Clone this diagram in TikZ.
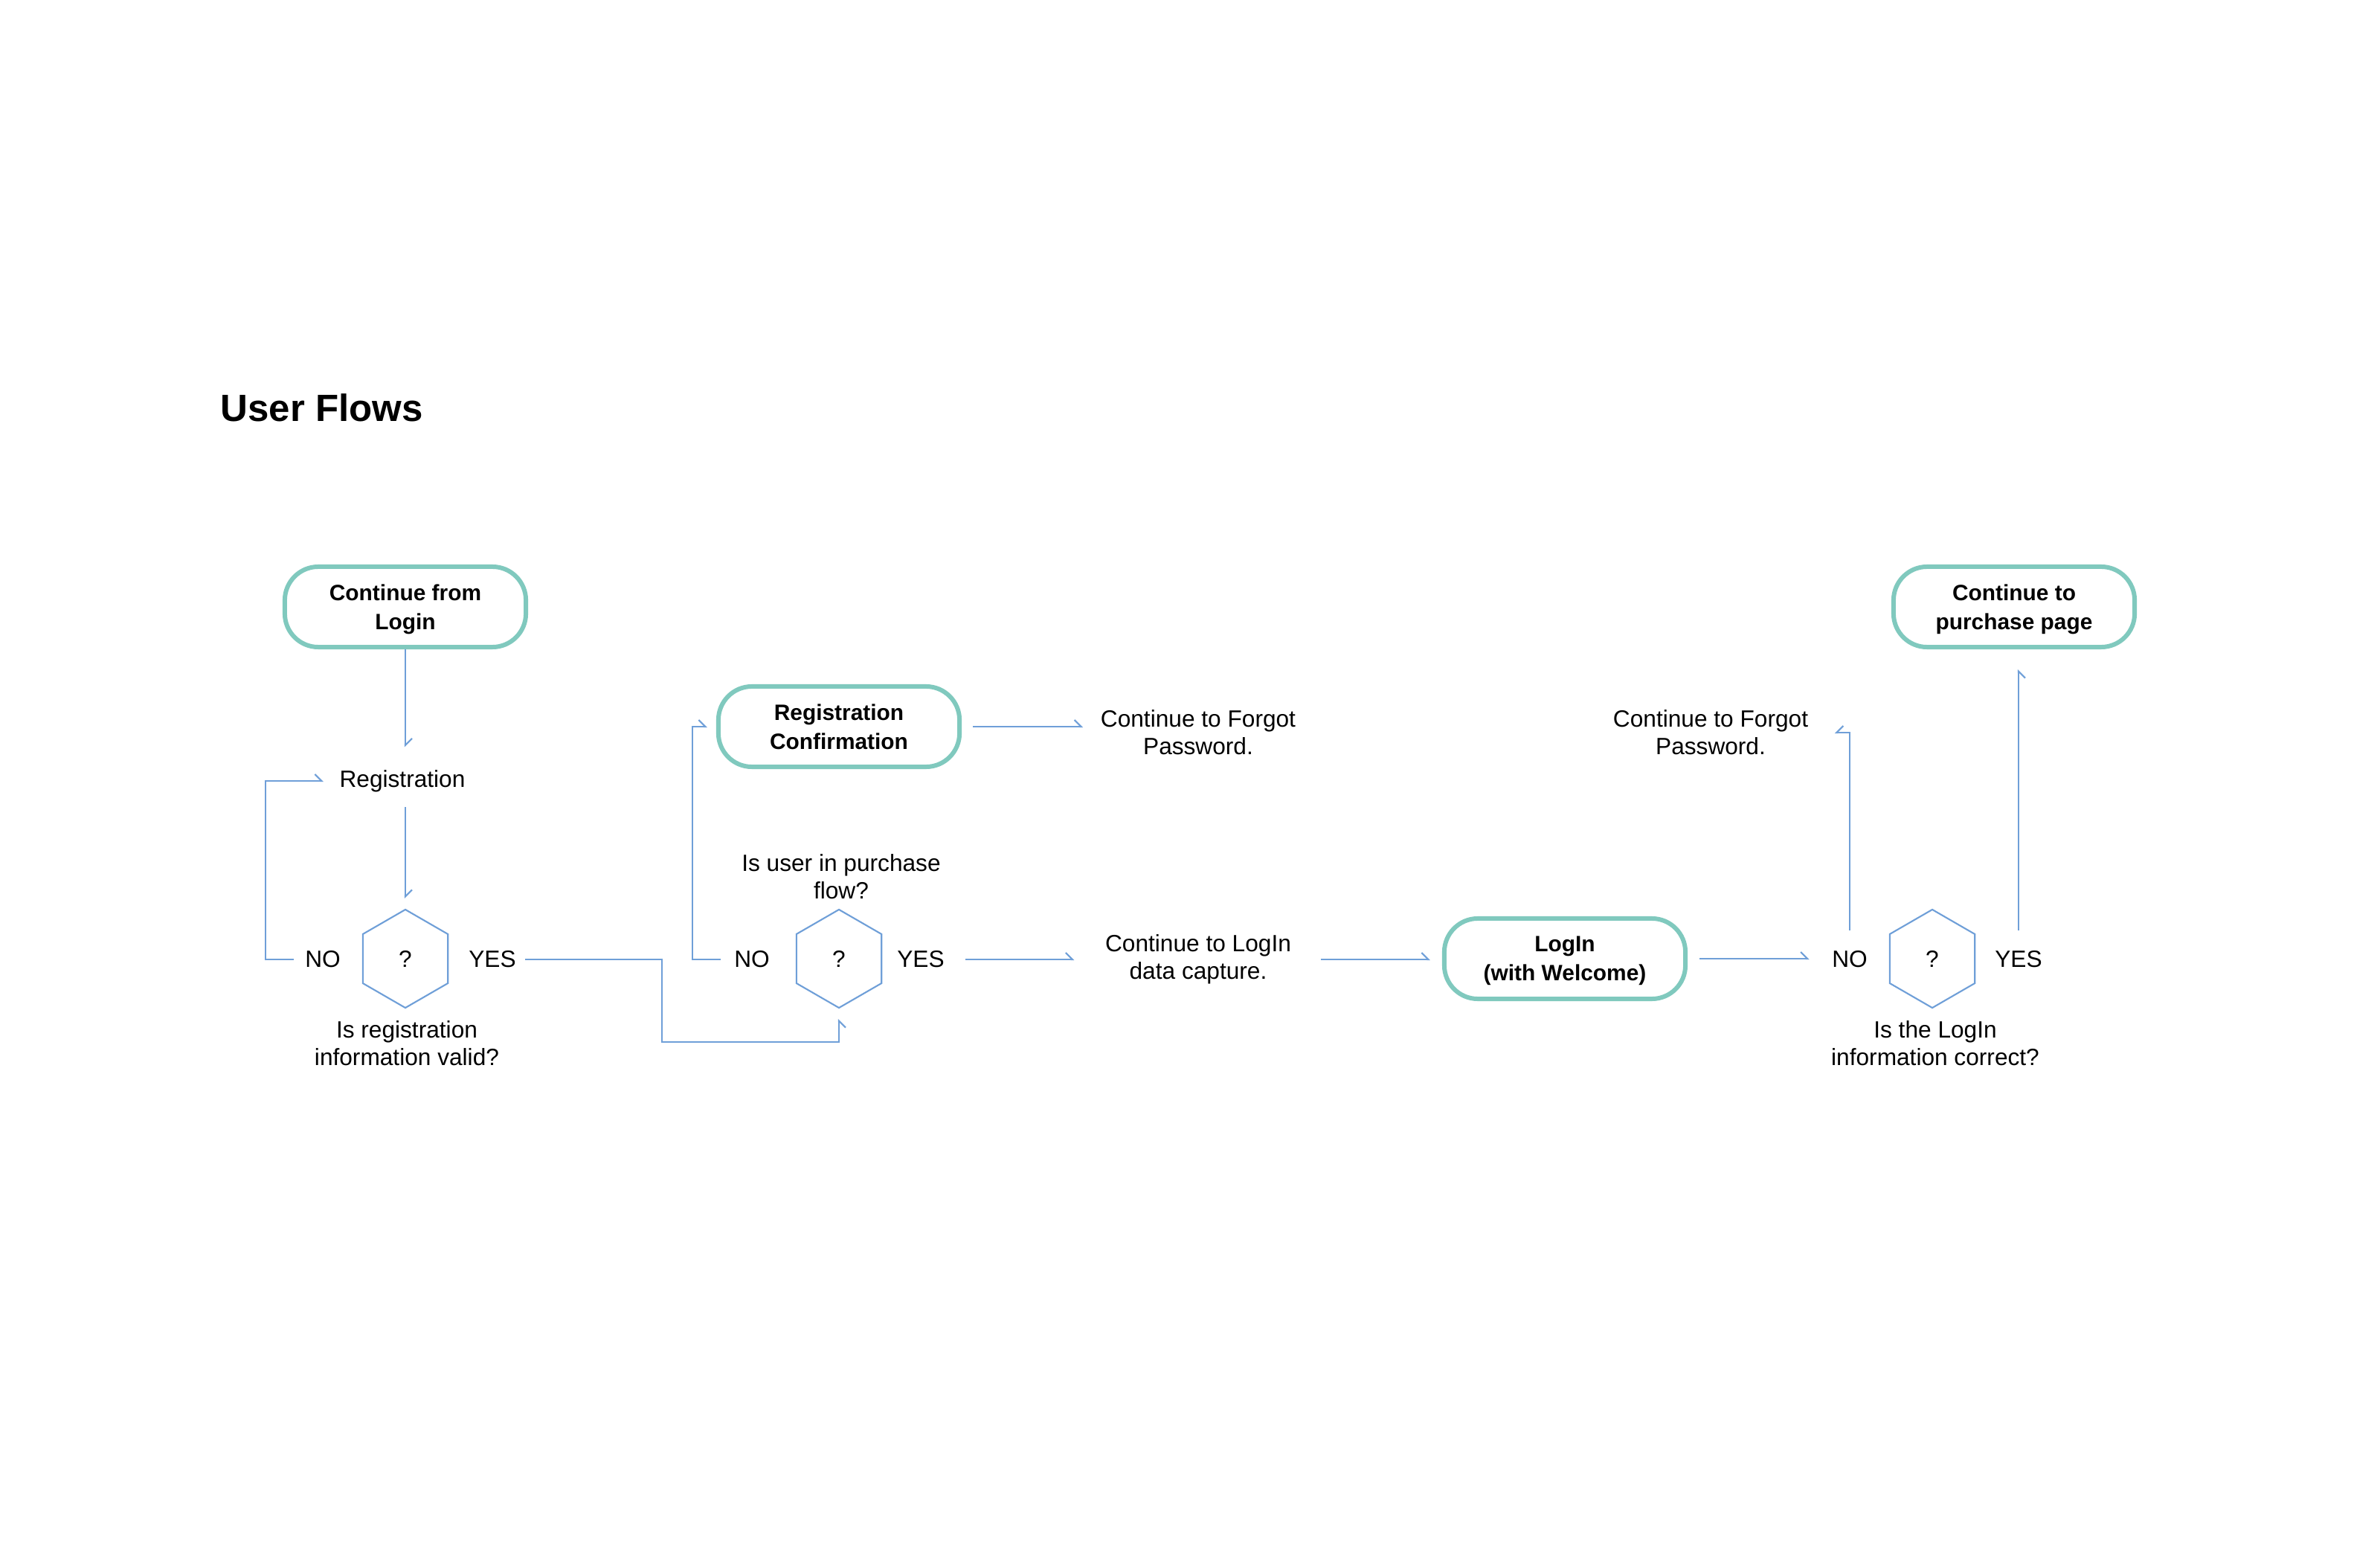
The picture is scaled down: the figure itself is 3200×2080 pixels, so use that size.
\documentclass[tikz,border=0pt]{standalone}
\usepackage{fontspec}
\setmainfont{Liberation Sans}
\usepackage{tikz}
\usetikzlibrary{positioning,arrows.meta,shapes.geometric}
\definecolor{CTeal}{HTML}{80C9BE}
\definecolor{CBlue}{HTML}{6F9FD8}

\begin{document}
\begin{tikzpicture}[x=0.01cm, y=-0.01cm,
  every node/.style={align=center, inner sep=0pt, font=\fontsize{9}{10.5}\selectfont},
  term/.style={draw=CTeal, line width=1.7pt, rounded corners=0.45cm, minimum width=3.24cm,
    minimum height=1.08cm, text depth=0pt, font=\bfseries\fontsize{8.5}{11}\selectfont},
  hexa/.style={draw=CBlue, line width=0.6pt, regular polygon, regular polygon sides=6,
    shape border rotate=30, minimum size=1.32cm, outer sep=0pt},
  flow/.style={draw=CBlue, line width=0.6pt},
  arr/.style={flow, -{Straight Barb[harpoon, length=0.09cm, width=0.18cm]}},
  arrsw/.style={flow, -{Straight Barb[harpoon, swap, length=0.09cm, width=0.18cm]}}]
  \fill[white] (0,0) rectangle (3200,2080);
  \useasboundingbox (0,0) rectangle (3200,2080);

  \node[anchor=base west, font=\bfseries\fontsize{14.5}{17}\selectfont] (title) at (296,567) {User Flows};

  % terminals
  \node[term] (cfl)   at (545,816)   {Continue from\\Login};
  \node[term] (rcf)   at (1128,977)  {Registration\\Confirmation};
  \node[term] (login) at (2104,1289) {LogIn\\(with Welcome)};
  \node[term] (cpp)   at (2708,816)  {Continue to\\purchase page};

  % decisions with their NO / YES labels
  \foreach \i/\cx/\nx/\yx in {1/545/434/662, 2/1128/1011/1238, 3/2598/2487/2714}{
    \node[hexa] (hex\i) at (\cx,1289) {?};
    \node (no\i)  at (\nx,1290) {NO};
    \node (yes\i) at (\yx,1290) {YES};
  }
  \node (q1) at (547,1403)  {Is registration\\information valid?};
  \node (q2) at (1131,1179) {Is user in purchase\\flow?};
  \node (q3) at (2602,1403) {Is the LogIn\\information correct?};

  \node (reg) at (541,1050)  {Registration};
  \node (fp1) at (1611,985)  {Continue to Forgot\\Password.};
  \node (fp2) at (2300,985)  {Continue to Forgot\\Password.};
  \node (cld) at (1611,1290) {Continue to LogIn\\data capture.};

  % connectors
  \draw[arr, shorten >=0.3cm] (cfl.south) -- (cfl.south |- reg.north);
  \draw[arr, shorten <=0.2cm, shorten >=0.15cm] (reg.south -| hex1.90) -- (hex1.90);
  \draw[arr, shorten <=0.15cm, shorten >=0.21cm] (no1.west) -- ++(-53,0) |- (reg.west);
  \draw[arrsw, shorten <=0.12cm, shorten >=0.15cm] (yes1.east) -| ++(196,111) -| (hex2.270);
  \draw[arr, shorten <=0.18cm, shorten >=0.12cm] (no2.west) -- ++(-56,0) |- (rcf.west);
  \draw[arr, shorten <=0.15cm, shorten >=0.23cm] (rcf.east) -- (rcf.east -| fp1.west);
  \draw[arr, shorten <=0.28cm, shorten >=0.41cm] (yes2.east) -- (cld.west);
  \draw[arr, shorten <=0.39cm, shorten >=0.16cm] (cld.east) -- (cld.east -| login.west);
  \draw[arr, shorten <=0.16cm, shorten >=0.3cm] (login.east) -- (login.east -| no3.west);
  \draw[arrsw, shorten <=0.27cm, shorten >=0.35cm] (no3.north) |- (fp2.east);
  \draw[arrsw, shorten <=0.27cm, shorten >=0.27cm] (yes3.north) -- (yes3.north |- cpp.south);
\end{tikzpicture}
\end{document}
